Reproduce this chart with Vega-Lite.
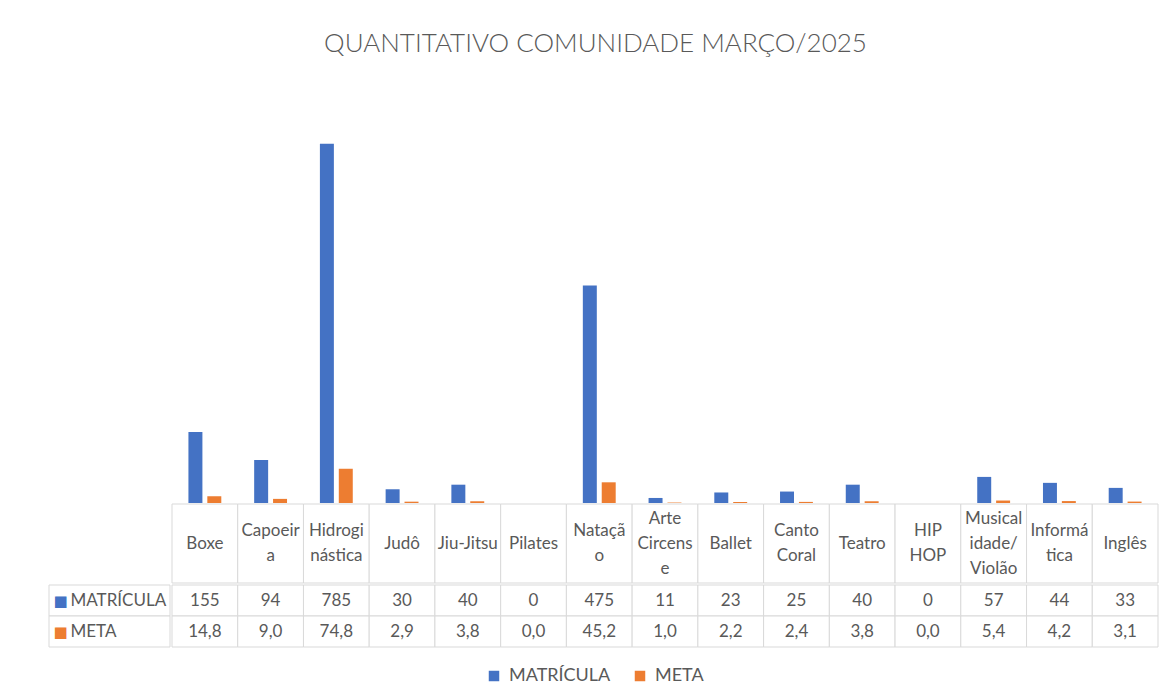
{
  "$schema": "https://vega.github.io/schema/vega-lite/v6.json",
  "padding": {"left": 48, "top": 31, "right": 13, "bottom": 10},
  "background": "white",
  "config": {
    "view": {"stroke": null},
    "font": "Lato",
    "text": {"color": "#595959", "fontSize": 17, "font": "Lato"},
    "locale": {"number": {"decimal": ",", "thousands": ".", "grouping": [3], "currency": ["R$ ", ""]}}
  },
  "title": {"text": "QUANTITATIVO COMUNIDADE MARÇO/2025", "fontSize": 26, "fontWeight": 300, "color": "#595959", "font": "Lato", "offset": 34, "anchor": "middle", "dx": -8},
  "datasets": {
    "dados": [
      {"categoria": "Boxe", "rotulo": ["Boxe"], "serie": "MATRÍCULA", "valor": 155},
      {"categoria": "Boxe", "rotulo": ["Boxe"], "serie": "META", "valor": 14.8},
      {"categoria": "Capoeira", "rotulo": ["Capoeir", "a"], "serie": "MATRÍCULA", "valor": 94},
      {"categoria": "Capoeira", "rotulo": ["Capoeir", "a"], "serie": "META", "valor": 9.0},
      {"categoria": "Hidroginástica", "rotulo": ["Hidrogi", "nástica"], "serie": "MATRÍCULA", "valor": 785},
      {"categoria": "Hidroginástica", "rotulo": ["Hidrogi", "nástica"], "serie": "META", "valor": 74.8},
      {"categoria": "Judô", "rotulo": ["Judô"], "serie": "MATRÍCULA", "valor": 30},
      {"categoria": "Judô", "rotulo": ["Judô"], "serie": "META", "valor": 2.9},
      {"categoria": "Jiu-Jitsu", "rotulo": ["Jiu-Jitsu"], "serie": "MATRÍCULA", "valor": 40},
      {"categoria": "Jiu-Jitsu", "rotulo": ["Jiu-Jitsu"], "serie": "META", "valor": 3.8},
      {"categoria": "Pilates", "rotulo": ["Pilates"], "serie": "MATRÍCULA", "valor": 0},
      {"categoria": "Pilates", "rotulo": ["Pilates"], "serie": "META", "valor": 0.0},
      {"categoria": "Natação", "rotulo": ["Nataçã", "o"], "serie": "MATRÍCULA", "valor": 475},
      {"categoria": "Natação", "rotulo": ["Nataçã", "o"], "serie": "META", "valor": 45.2},
      {"categoria": "Arte Circense", "rotulo": ["Arte", "Circens", "e"], "serie": "MATRÍCULA", "valor": 11},
      {"categoria": "Arte Circense", "rotulo": ["Arte", "Circens", "e"], "serie": "META", "valor": 1.0},
      {"categoria": "Ballet", "rotulo": ["Ballet"], "serie": "MATRÍCULA", "valor": 23},
      {"categoria": "Ballet", "rotulo": ["Ballet"], "serie": "META", "valor": 2.2},
      {"categoria": "Canto Coral", "rotulo": ["Canto", "Coral"], "serie": "MATRÍCULA", "valor": 25},
      {"categoria": "Canto Coral", "rotulo": ["Canto", "Coral"], "serie": "META", "valor": 2.4},
      {"categoria": "Teatro", "rotulo": ["Teatro"], "serie": "MATRÍCULA", "valor": 40},
      {"categoria": "Teatro", "rotulo": ["Teatro"], "serie": "META", "valor": 3.8},
      {"categoria": "HIP HOP", "rotulo": ["HIP", "HOP"], "serie": "MATRÍCULA", "valor": 0},
      {"categoria": "HIP HOP", "rotulo": ["HIP", "HOP"], "serie": "META", "valor": 0.0},
      {"categoria": "Musicalidade/Violão", "rotulo": ["Musical", "idade/", "Violão"], "serie": "MATRÍCULA", "valor": 57},
      {"categoria": "Musicalidade/Violão", "rotulo": ["Musical", "idade/", "Violão"], "serie": "META", "valor": 5.4},
      {"categoria": "Informática", "rotulo": ["Informá", "tica"], "serie": "MATRÍCULA", "valor": 44},
      {"categoria": "Informática", "rotulo": ["Informá", "tica"], "serie": "META", "valor": 4.2},
      {"categoria": "Inglês", "rotulo": ["Inglês"], "serie": "MATRÍCULA", "valor": 33},
      {"categoria": "Inglês", "rotulo": ["Inglês"], "serie": "META", "valor": 3.1}
    ],
    "series": [{"serie": "MATRÍCULA"}, {"serie": "META"}]
  },
  "columns": 2,
  "spacing": 0,
  "align": "each",
  "concat": [
    {
      "data": {"values": [{}]},
      "width": 121,
      "height": 412,
      "mark": {"type": "text", "text": ""}
    },
    {
      "data": {"name": "dados"},
      "width": 986,
      "height": 412,
      "mark": {"type": "bar"},
      "encoding": {
        "x": {"field": "categoria", "type": "nominal", "sort": null, "axis": null, "scale": {"paddingInner": 0.5, "paddingOuter": 0.25}},
        "xOffset": {"field": "serie", "type": "nominal", "sort": null, "scale": {"paddingInner": 0.26, "paddingOuter": 0}},
        "y": {"field": "valor", "type": "quantitative", "axis": null, "scale": {"domain": [0, 900], "nice": false}},
        "color": {
          "field": "serie", "type": "nominal", "sort": null,
          "scale": {"domain": ["MATRÍCULA", "META"], "range": ["#4472C4", "#ED7D31"]},
          "legend": {"orient": "none", "legendX": 436, "legendY": 576, "direction": "horizontal", "title": null, "symbolType": "square", "symbolSize": 110, "symbolStrokeWidth": 0, "labelFontSize": 18, "labelColor": "#595959", "labelFont": "Lato", "columnPadding": 20, "labelOffset": 6}
        }
      }
    },
    {
      "data": {"values": [{}]},
      "width": 121,
      "height": 79,
      "mark": {"type": "text", "text": ""}
    },
    {
      "data": {"name": "dados"},
      "transform": [{"filter": {"field": "serie", "equal": "MATRÍCULA"}}],
      "width": 986,
      "height": 79,
      "layer": [
        {
          "mark": {"type": "rect", "fill": "white", "stroke": "#d9d9d9", "strokeWidth": 1},
          "encoding": {
            "x": {"field": "categoria", "type": "nominal", "sort": null, "axis": null, "scale": {"paddingInner": 0, "paddingOuter": 0}}
          }
        },
        {
          "mark": {"type": "text", "baseline": "middle", "lineHeight": 25, "dy": {"expr": "-(length(datum.rotulo) - 1) * 12.5"}},
          "encoding": {
            "x": {"field": "categoria", "type": "nominal", "sort": null, "axis": null},
            "text": {"field": "rotulo"}
          }
        }
      ]
    },
    {
      "data": {"name": "series"},
      "width": 121,
      "height": 62,
      "layer": [
        {
          "mark": {"type": "rect", "fill": "white", "stroke": "#d9d9d9", "strokeWidth": 1},
          "encoding": {
            "y": {"field": "serie", "type": "nominal", "sort": null, "axis": null, "scale": {"domain": ["MATRÍCULA", "META"], "paddingInner": 0, "paddingOuter": 0}}
          }
        },
        {
          "mark": {"type": "text", "text": "■", "align": "left", "baseline": "middle", "dx": -56, "font": "DejaVu Sans", "fontSize": 15},
          "encoding": {
            "y": {"field": "serie", "type": "nominal", "sort": null, "axis": null},
            "color": {"field": "serie", "type": "nominal", "sort": null, "legend": null}
          }
        },
        {
          "mark": {"type": "text", "align": "left", "baseline": "middle", "dx": -39},
          "encoding": {
            "y": {"field": "serie", "type": "nominal", "sort": null, "axis": null},
            "text": {"field": "serie"}
          }
        }
      ]
    },
    {
      "data": {"name": "dados"},
      "width": 986,
      "height": 62,
      "encoding": {
        "x": {"field": "categoria", "type": "nominal", "sort": null, "axis": null, "scale": {"paddingInner": 0, "paddingOuter": 0}},
        "y": {"field": "serie", "type": "nominal", "axis": null, "scale": {"domain": ["MATRÍCULA", "META"], "paddingInner": 0, "paddingOuter": 0}}
      },
      "layer": [
        {
          "mark": {"type": "rect", "fill": "white", "stroke": "#d9d9d9", "strokeWidth": 1}
        },
        {
          "transform": [{"filter": {"field": "serie", "equal": "MATRÍCULA"}}],
          "mark": {"type": "text", "baseline": "middle"},
          "encoding": {"text": {"field": "valor", "type": "quantitative", "format": "d"}}
        },
        {
          "transform": [{"filter": {"field": "serie", "equal": "META"}}],
          "mark": {"type": "text", "baseline": "middle"},
          "encoding": {"text": {"field": "valor", "type": "quantitative", "format": ".1f"}}
        }
      ]
    }
  ]
}
